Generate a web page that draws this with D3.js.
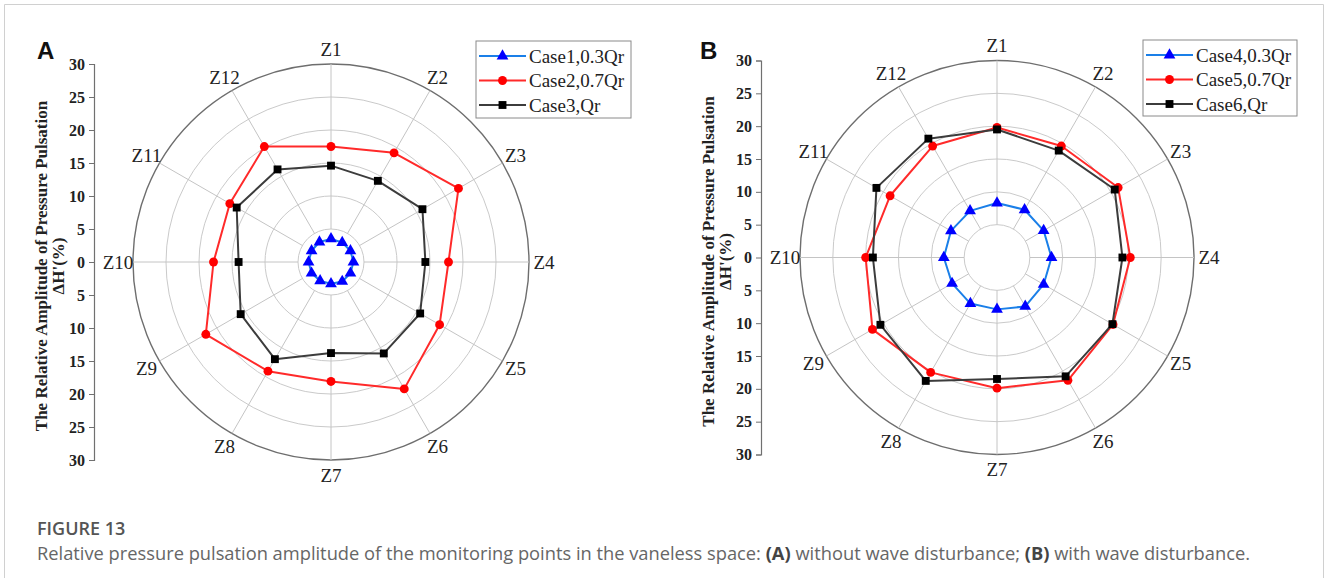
<!DOCTYPE html>
<html>
<head>
<meta charset="utf-8">
<script src="https://cdn.jsdelivr.net/npm/d3@7"></script>
<style>
  html, body { margin: 0; padding: 0; background: #fff; }
  svg { display: block; }
</style>
</head>
<body>
<svg id="fig" width="1328" height="578"></svg>
<script>
// Monitoring points around the vaneless space (clockwise from top)
const zones = ["Z1", "Z2", "Z3", "Z4", "Z5", "Z6", "Z7", "Z8", "Z9", "Z10", "Z11", "Z12"];

// Relative pressure pulsation amplitude ΔH' (%) – without wave disturbance
const case1 = [3.5, 3.4, 3.4, 3.4, 3.4, 3.4, 3.3, 3.3, 3.4, 3.4, 3.4, 3.5];
const case2 = [17.5, 19.1, 22.3, 17.8, 19.0, 22.2, 18.1, 19.1, 21.9, 17.8, 17.7, 20.2];
const case3 = [14.6, 14.2, 16.0, 14.3, 15.6, 16.0, 13.8, 17.0, 15.8, 14.0, 16.5, 16.2];

// Relative pressure pulsation amplitude ΔH' (%) – with wave disturbance
const case4 = [8.3, 8.4, 8.2, 8.3, 8.2, 8.6, 7.9, 8.1, 7.9, 8.1, 8.1, 8.2];
const case5 = [19.8, 19.6, 21.3, 20.3, 20.4, 21.6, 19.9, 20.2, 21.9, 20.0, 18.8, 19.6];
const case6 = [19.5, 18.8, 20.7, 19.1, 20.3, 20.9, 18.5, 21.7, 20.5, 18.9, 21.2, 20.9];

const seriesNamesA = ["Case1,0.3Qr", "Case2,0.7Qr", "Case3,Qr"];
const seriesNamesB = ["Case4,0.3Qr", "Case5,0.7Qr", "Case6,Qr"];

const ringValues = [5, 10, 15, 20, 25, 30];
const axisTicks = [-30, -25, -20, -15, -10, -5, 0, 5, 10, 15, 20, 25, 30];
const maxValue = 30;

const styles = [
  { line: "#1a7fe8", fill: "#0000ff", shape: d3.symbolTriangle, size: 60 },
  { line: "#ff2a2a", fill: "#ff0000", shape: d3.symbolCircle, size: 62 },
  { line: "#3c3c3c", fill: "#000000", shape: d3.symbolSquare, size: 62 }
];

const svg = d3.select("#fig");
const serif = "'Liberation Serif', 'Times New Roman', serif";

// figure frame
svg.append("path")
  .attr("d", "M4.5,580 V4.5 H1323.5 V580")
  .attr("fill", "none").attr("stroke", "#d0d0d0").attr("stroke-width", 1);

function drawPanel(opts) {
  const { cx, cy, R, axisX, letter, letterX, letterY, data, names, legend } = opts;
  const g = svg.append("g");
  const r = d3.scaleLinear().domain([0, maxValue]).range([0, R]);
  const angle = d3.scalePoint().domain(zones).range([0, 2 * Math.PI * 11 / 12]);

  // grid rings
  g.selectAll(".ring").data(ringValues).join("circle")
    .attr("cx", cx).attr("cy", cy).attr("r", d => r(d))
    .attr("fill", "none")
    .attr("stroke", d => d === maxValue ? "#6e6e6e" : "#cacaca")
    .attr("stroke-width", d => d === maxValue ? 1.4 : 1);

  // spokes
  g.selectAll(".spoke").data(zones).join("line")
    .attr("x1", d => cx + r(5) * Math.sin(angle(d)))
    .attr("y1", d => cy - r(5) * Math.cos(angle(d)))
    .attr("x2", d => cx + r(maxValue) * Math.sin(angle(d)))
    .attr("y2", d => cy - r(maxValue) * Math.cos(angle(d)))
    .attr("stroke", "#c4c4c4").attr("stroke-width", 1);

  // zone labels
  g.selectAll(".zl").data(zones).join("text")
    .attr("x", d => cx + (R + 15) * Math.sin(angle(d)))
    .attr("y", d => cy - (R + 15) * Math.cos(angle(d)))
    .attr("text-anchor", "middle").attr("dominant-baseline", "central")
    .attr("font-family", serif).attr("font-size", 19).attr("fill", "#222")
    .text(d => d);

  // series lines and markers
  const line = d3.lineRadial()
    .angle((d, i) => angle(zones[i]))
    .radius(d => r(d))
    .curve(d3.curveLinearClosed);

  data.forEach((vals, k) => {
    const st = styles[k];
    g.append("path")
      .attr("transform", `translate(${cx},${cy})`)
      .attr("d", line(vals))
      .attr("fill", "none").attr("stroke", st.line)
      .attr("stroke-width", 2).attr("stroke-linejoin", "round");
    g.selectAll(null).data(vals).join("path")
      .attr("transform", (d, i) => `translate(${cx + r(d) * Math.sin(angle(zones[i]))},${cy - r(d) * Math.cos(angle(zones[i]))})`)
      .attr("d", d3.symbol().type(st.shape).size(st.size))
      .attr("fill", st.fill);
  });

  // vertical value axis
  const y = d3.scaleLinear().domain([-maxValue, maxValue]).range([cy + R, cy - R]);
  const ax = g.append("g")
    .attr("transform", `translate(${axisX},0)`)
    .call(d3.axisLeft(y).tickValues(axisTicks).tickFormat(d => Math.abs(d)).tickSize(5).tickPadding(4));
  ax.select(".domain").attr("stroke", "#707070").attr("stroke-width", 1.2);
  ax.selectAll(".tick line").attr("stroke", "#707070");
  ax.selectAll(".tick text")
    .attr("font-family", serif).attr("font-weight", "bold")
    .attr("font-size", 16).attr("fill", "#222");

  // axis title
  const tg = g.append("g").attr("transform", `translate(${axisX - 47},${cy + 4}) rotate(-90)`);
  tg.append("text")
    .attr("text-anchor", "middle")
    .attr("font-family", serif).attr("font-weight", "bold").attr("font-size", 17).attr("fill", "#222")
    .text("The Relative Amplitude of Pressure Pulsation");
  tg.append("text")
    .attr("y", 17)
    .attr("text-anchor", "middle")
    .attr("font-family", serif).attr("font-weight", "bold").attr("font-size", 17).attr("fill", "#222")
    .text("ΔH'(%)");

  // panel letter
  g.append("text")
    .attr("x", letterX).attr("y", letterY)
    .attr("font-family", "'Liberation Sans', Arial, sans-serif").attr("font-weight", "bold")
    .attr("font-size", 24).attr("fill", "#111")
    .text(letter);

  // legend
  const lg = g.append("g").attr("transform", `translate(${legend.x},${legend.y})`);
  lg.append("rect")
    .attr("width", legend.w).attr("height", legend.h)
    .attr("fill", "#fff").attr("stroke", "#8a8a8a").attr("stroke-width", 1);
  names.forEach((name, k) => {
    const st = styles[k];
    const yy = 15 + k * 24.5;
    lg.append("line").attr("x1", 3).attr("x2", 50).attr("y1", yy).attr("y2", yy)
      .attr("stroke", st.line).attr("stroke-width", 2);
    lg.append("path").attr("transform", `translate(26.5,${yy})`)
      .attr("d", d3.symbol().type(st.shape).size(st.size)).attr("fill", st.fill);
    lg.append("text").attr("x", 53).attr("y", yy).attr("dominant-baseline", "central")
      .attr("font-family", serif).attr("font-size", 19).attr("fill", "#222")
      .text(name);
  });
}

drawPanel({
  cx: 331, cy: 262, R: 198, axisX: 94,
  letter: "A", letterX: 37, letterY: 59,
  data: [case1, case2, case3], names: seriesNamesA,
  legend: { x: 476, y: 41, w: 155, h: 77 }
});

drawPanel({
  cx: 997, cy: 257.5, R: 197, axisX: 761,
  letter: "B", letterX: 700, letterY: 59,
  data: [case4, case5, case6], names: seriesNamesB,
  legend: { x: 1143, y: 40, w: 154, h: 76 }
});

// figure caption
svg.append("text")
  .attr("x", 37).attr("y", 535)
  .attr("font-family", "'Open Sans', 'Noto Sans', sans-serif").attr("font-size", 18)
  .attr("font-weight", 600).attr("fill", "#555")
  .text("FIGURE 13");

const cap = svg.append("text")
  .attr("x", 37).attr("y", 560)
  .attr("font-family", "'Open Sans', 'Noto Sans', sans-serif").attr("font-size", 18.3)
  .attr("fill", "#666");
cap.append("tspan").text("Relative pressure pulsation amplitude of the monitoring points in the vaneless space: ");
cap.append("tspan").attr("font-weight", "bold").attr("fill", "#444").text("(A)");
cap.append("tspan").text(" without wave disturbance; ");
cap.append("tspan").attr("font-weight", "bold").attr("fill", "#444").text("(B)");
cap.append("tspan").text(" with wave disturbance.");
</script>
</body>
</html>
